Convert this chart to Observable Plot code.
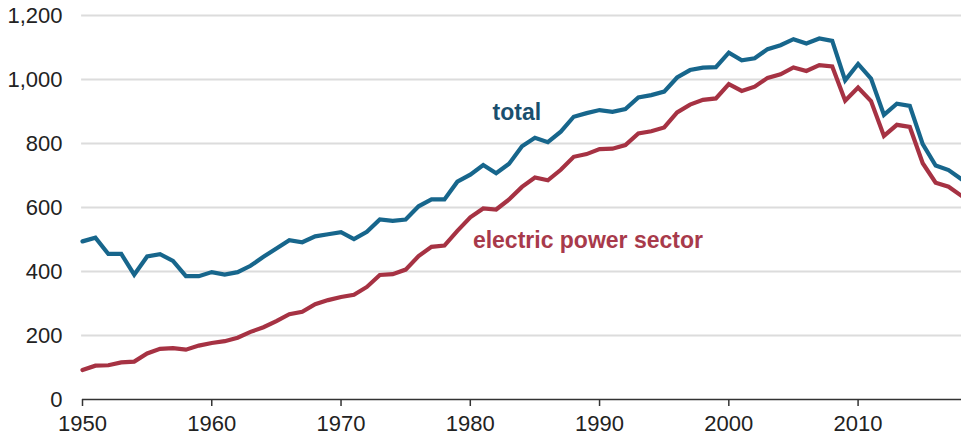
<!DOCTYPE html>
<html>
<head>
<meta charset="utf-8">
<script src="https://cdn.jsdelivr.net/npm/d3@7"></script>
<script src="https://cdn.jsdelivr.net/npm/@observablehq/plot@0.6"></script>
<style>
  html, body { margin: 0; padding: 0; background: #fff; }
  #chart svg { display: block; }
</style>
</head>
<body>
<div id="chart"></div>
<script>
const years = d3.range(1950, 2019);
const total = [494.1, 505.9, 454.8, 454.8, 390.0, 447.0, 454.0, 432.9, 385.7, 385.5,
  398.1, 390.4, 398.0, 417.8, 446.0, 472.0, 497.7, 491.4, 509.8, 516.4,
  523.2, 501.6, 524.3, 562.6, 558.4, 562.6, 603.8, 625.3, 625.2, 680.5,
  702.7, 732.6, 706.9, 736.7, 791.3, 818.0, 804.2, 836.9, 883.6, 894.9,
  904.5, 899.2, 907.7, 944.1, 951.3, 962.1, 1006.3, 1029.5, 1037.1, 1038.6,
  1084.1, 1060.1, 1066.4, 1094.9, 1107.3, 1125.9, 1112.3, 1128.0, 1120.5, 997.5,
  1048.5, 1002.9, 889.2, 924.4, 917.7, 798.1, 731.1, 716.9, 688.1];
const electric = [91.9, 105.8, 107.1, 115.9, 118.4, 143.8, 158.3, 160.8, 155.7, 168.4,
  176.7, 182.2, 193.2, 211.3, 225.9, 244.8, 266.5, 274.2, 297.8, 310.6,
  320.2, 327.3, 351.8, 389.2, 391.8, 406.0, 448.4, 477.1, 481.2, 527.1,
  569.3, 596.8, 593.7, 625.2, 664.4, 693.8, 685.1, 717.9, 758.4, 766.9,
  782.6, 783.9, 795.1, 831.6, 838.4, 850.2, 896.9, 921.4, 936.6, 940.9,
  985.8, 964.4, 977.5, 1005.1, 1016.3, 1037.5, 1026.6, 1045.1, 1040.6, 933.6,
  975.1, 932.5, 823.6, 858.4, 851.6, 738.4, 677.5, 664.9, 636.5];
const yTicks = [0, 200, 400, 600, 800, 1000, 1200];
const xTicks = [1950, 1960, 1970, 1980, 1990, 2000, 2010];
const seriesNames = ["total", "electric power sector"];
const seriesColors = ["#17668c", "#a63243"];
const labelColors = ["#1a4f6e", "#a83a4b"];
const labelX = [1983.6, 1989.1];
const labelY = [897, 497];

const rows = [];
years.forEach((yr, i) => {
  rows.push({year: yr, value: total[i], series: seriesNames[0]});
  rows.push({year: yr, value: electric[i], series: seriesNames[1]});
});
const labels = seriesNames.map((s, i) => ({name: s, x: labelX[i], y: labelY[i], color: labelColors[i]}));

const chart = Plot.plot({
  width: 961,
  height: 439,
  marginLeft: 82,
  marginRight: 0,
  marginTop: 15,
  marginBottom: 40,
  style: {fontFamily: "Arial, 'Liberation Sans', sans-serif", background: "#fff"},
  x: {domain: [1950, 2018], ticks: xTicks},
  y: {domain: [0, 1200]},
  color: {domain: seriesNames, range: seriesColors},
  marks: [
    Plot.ruleY(yTicks.filter(d => d > 0), {stroke: "#dcdcdc", strokeWidth: 2, x1: 1949.93, x2: 2018}),
    Plot.axisY({ticks: yTicks, tickSize: 0, tickPadding: 20, tickFormat: d3.format(","), fontSize: 22, fill: "#222", label: null}),
    Plot.axisX({ticks: xTicks, tickSize: 7, tickPadding: 9, tickFormat: d => String(d), fontSize: 22, fill: "#222", stroke: "#333", strokeWidth: 1.5, label: null}),
    Plot.ruleY([0], {stroke: "#333", strokeWidth: 1.6}),
    Plot.lineY(rows, {x: "year", y: "value", z: "series", stroke: "series", strokeWidth: 4.2, strokeLinejoin: "miter", strokeMiterlimit: 3}),
    Plot.text(labels, {x: "x", y: "y", text: "name", fill: "color", textAnchor: "middle", fontSize: 23, fontWeight: "bold"})
  ]
});
document.getElementById("chart").appendChild(chart);
</script>
</body>
</html>
